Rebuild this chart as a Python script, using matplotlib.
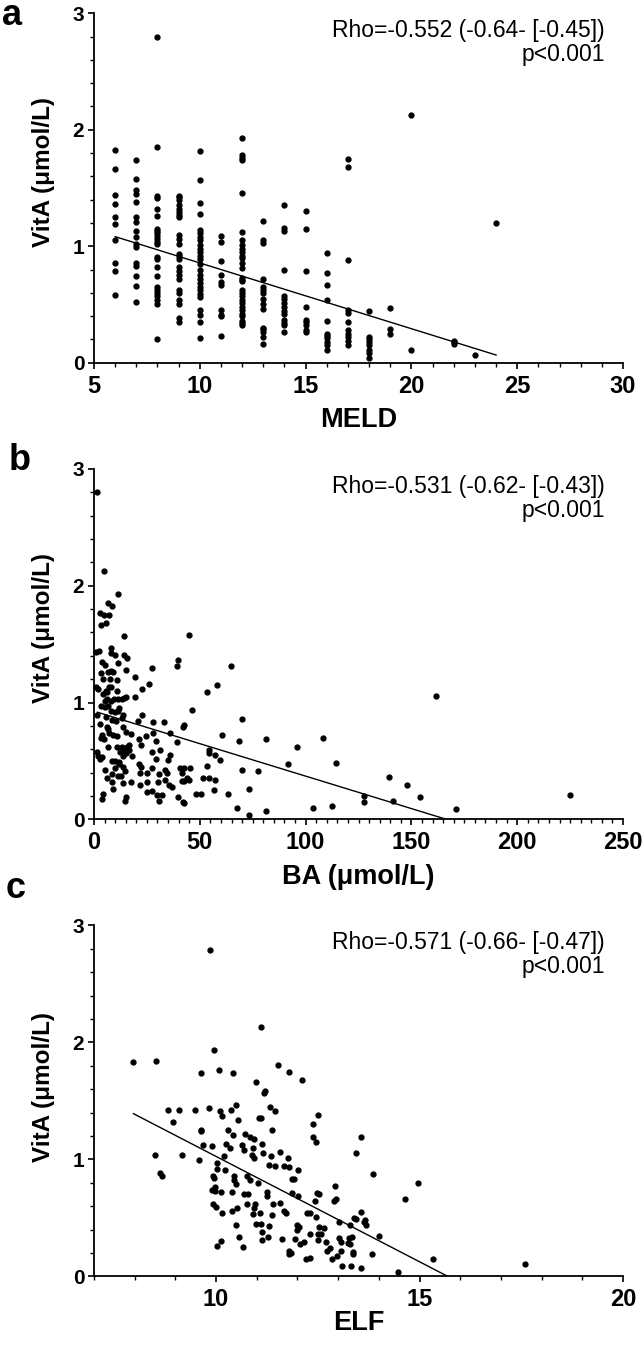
import matplotlib
matplotlib.use("Agg")
import matplotlib.pyplot as plt
from matplotlib.ticker import MultipleLocator
import numpy as np

plt.rcParams['font.family'] = ['Liberation Sans', 'DejaVu Sans']

# ---------------- Panel a: MELD vs VitA ----------------
meld_levels = [6, 7, 8, 9, 10, 11, 12, 13, 14, 15, 16, 17, 18, 19, 20, 22, 23, 24]
meld_vita = [
    [1.83, 1.66, 1.44, 1.36, 1.25, 1.19, 1.05, 0.86, 0.79, 0.58],
    [1.74, 1.58, 1.48, 1.45, 1.38, 1.25, 1.21, 1.13, 1.08, 1.02, 0.99, 0.86, 0.83, 0.74, 0.66, 0.52],
    [2.80, 1.85, 1.43, 1.41, 1.32, 1.26, 1.15, 1.13, 1.11, 1.09, 1.06, 1.04, 1.02, 0.91, 0.89, 0.82,
     0.74, 0.65, 0.62, 0.60, 0.57, 0.54, 0.50, 0.20],
    [1.43, 1.42, 1.40, 1.35, 1.32, 1.29, 1.27, 1.25, 1.10, 1.06, 1.02, 0.93, 0.92, 0.89, 0.82, 0.79,
     0.75, 0.72, 0.62, 0.60, 0.54, 0.50, 0.38, 0.35],
    [1.82, 1.57, 1.37, 1.28, 1.14, 1.11, 1.08, 1.05, 1.01, 0.98, 0.95, 0.92, 0.89, 0.85, 0.80, 0.75,
     0.72, 0.68, 0.65, 0.62, 0.59, 0.56, 0.45, 0.41, 0.35, 0.21],
    [1.09, 1.04, 0.87, 0.75, 0.69, 0.67, 0.45, 0.41, 0.40, 0.23],
    [1.93, 1.78, 1.76, 1.74, 1.46, 1.12, 1.05, 1.01, 0.98, 0.95, 0.92, 0.90, 0.86, 0.81, 0.73, 0.71,
     0.70, 0.62, 0.60, 0.57, 0.54, 0.51, 0.48, 0.45, 0.42, 0.40, 0.36, 0.34, 0.32],
    [1.22, 1.05, 1.03, 0.72, 0.65, 0.62, 0.60, 0.55, 0.50, 0.46, 0.30, 0.29, 0.26, 0.22, 0.16],
    [1.35, 1.16, 1.13, 0.80, 0.57, 0.55, 0.51, 0.48, 0.44, 0.42, 0.37, 0.34, 0.32, 0.26],
    [1.30, 1.15, 0.79, 0.48, 0.37, 0.35, 0.32, 0.28, 0.26],
    [0.94, 0.77, 0.67, 0.54, 0.36, 0.25, 0.23, 0.21, 0.18, 0.15, 0.11],
    [1.75, 1.68, 0.88, 0.45, 0.43, 0.35, 0.28, 0.25, 0.22, 0.19, 0.15],
    [0.44, 0.22, 0.20, 0.18, 0.15, 0.11, 0.08, 0.04],
    [0.47, 0.29, 0.25],
    [2.13, 0.11],
    [0.19, 0.18, 0.16],
    [0.07],
    [1.20],
]
meld_fit_x = [6, 24]
meld_fit_y = [1.082, 0.066]
meld_text = "Rho=-0.552 (-0.64- [-0.45])\np<0.001"

# ---------------- Panel b: BA vs VitA ----------------
ba_x = [1.6, 4.9, 11.3, 6.8, 8.7, 2.8, 4.9, 7.1, 5.8, 3.5, 45.1, 14.3, 7.9, 0.9, 2.5, 7.9, 10.1, 14.3,
        15.6, 3.6, 5.4, 11.3, 39.6, 39.1, 27.3, 64.6, 3.3, 6.5, 8.2, 9.1, 15.0, 19.5, 4.1, 7.6, 10.7,
        26.2, 0.9, 2.0, 7.2, 8.2, 22.5, 58.2, 53.6, 4.4, 5.7, 6.3, 10.7, 19.4, 9.5, 11.5, 13.2, 14.3,
        15.1, 5.2, 6.0, 8.0, 3.3, 5.2, 6.8, 12.0, 46.5, 7.9, 9.9, 11.2, 1.3, 5.7, 13.6, 13.2, 22.9,
        69.8, 8.4, 10.4, 20.6, 28.1, 33.1, 41.9, 42.7, 2.8, 6.3, 6.8, 7.1, 35.9, 13.6, 15.1, 17.5,
        28.1, 3.8, 4.7, 3.5, 8.8, 10.7, 60.7, 81.3, 108.0, 21.3, 24.6, 39.4, 68.7, 29.2, 6.8, 10.7,
        13.1, 16.5, 15.8, 22.2, 96.1, 54.2, 54.5, 27.4, 31.2, 12.3, 13.9, 15.1, 16.7, 1.3, 2.0, 3.6,
        2.8, 57.2, 59.6, 13.6, 17.8, 29.2, 36.1, 8.5, 9.9, 12.0, 34.8, 114.4, 91.9, 12.0, 13.9, 21.4,
        22.2, 53.6, 27.3, 40.7, 42.7, 45.4, 41.4, 5.0, 9.9, 14.7, 70.1, 77.4, 33.7, 34.7, 8.5, 11.5,
        12.9, 21.7, 25.2, 30.9, 33.7, 6.0, 8.4, 13.9, 17.3, 21.7, 25.2, 30.1, 35.3, 36.7, 41.4, 42.6,
        44.1, 44.9, 51.4, 54.4, 57.1, 56.6, 8.8, 27.6, 25.2, 29.9, 32.0, 48.2, 50.6, 63.2, 73.4, 4.1,
        3.6, 15.0, 14.7, 30.9, 39.9, 41.9, 42.7, 67.6, 73.4, 81.2, 103.7, 112.7, 127.4, 127.7, 139.2,
        141.1, 148.0, 154.0, 161.4, 171.0, 225.0]
ba_vita = [2.80, 2.13, 1.93, 1.85, 1.83, 1.77, 1.75, 1.75, 1.68, 1.66, 1.58, 1.57, 1.47, 1.43, 1.44,
           1.42, 1.41, 1.41, 1.38, 1.35, 1.32, 1.34, 1.36, 1.31, 1.30, 1.31, 1.25, 1.26, 1.27, 1.26,
           1.28, 1.22, 1.20, 1.20, 1.19, 1.16, 1.13, 1.12, 1.13, 1.13, 1.12, 1.15, 1.09, 1.07, 1.10,
           1.09, 1.10, 1.05, 1.03, 1.03, 1.03, 1.04, 1.05, 1.01, 1.03, 1.01, 0.97, 0.96, 0.97, 0.95,
           0.94, 0.93, 0.92, 0.93, 0.89, 0.88, 0.89, 0.87, 0.89, 0.86, 0.85, 0.84, 0.84, 0.83, 0.83,
           0.79, 0.81, 0.82, 0.79, 0.77, 0.74, 0.74, 0.79, 0.75, 0.73, 0.74, 0.72, 0.69, 0.70, 0.72,
           0.71, 0.72, 0.69, 0.70, 0.69, 0.71, 0.66, 0.67, 0.67, 0.62, 0.62, 0.62, 0.64, 0.62, 0.64,
           0.62, 0.59, 0.57, 0.58, 0.59, 0.58, 0.59, 0.57, 0.59, 0.58, 0.54, 0.53, 0.52, 0.55, 0.51,
           0.54, 0.54, 0.52, 0.55, 0.50, 0.50, 0.49, 0.51, 0.48, 0.47, 0.47, 0.45, 0.47, 0.45, 0.46,
           0.44, 0.44, 0.44, 0.44, 0.40, 0.42, 0.44, 0.41, 0.42, 0.41, 0.42, 0.40, 0.39, 0.37, 0.37,
           0.40, 0.40, 0.39, 0.34, 0.35, 0.32, 0.31, 0.32, 0.29, 0.32, 0.32, 0.29, 0.28, 0.33, 0.33,
           0.35, 0.34, 0.35, 0.35, 0.34, 0.25, 0.26, 0.24, 0.23, 0.21, 0.21, 0.22, 0.22, 0.22, 0.26,
           0.22, 0.17, 0.19, 0.16, 0.16, 0.19, 0.15, 0.14, 0.10, 0.04, 0.07, 0.10, 0.11, 0.20, 0.15,
           0.36, 0.16, 0.29, 0.19, 1.06, 0.09, 0.21]
ba_fit_x = [1.6, 166.5]
ba_fit_y = [0.917, 0.0]
ba_text = "Rho=-0.531 (-0.62- [-0.43])\np<0.001"

# ---------------- Panel c: ELF vs VitA ----------------
elf_x = [7.95, 8.53, 9.84, 11.11, 9.96, 10.06, 9.64, 10.41, 11.52, 11.80, 10.98, 11.17, 11.19, 12.11,
         8.83, 9.09, 9.47, 8.95, 9.83, 10.09, 10.14, 10.37, 10.48, 10.54, 11.33, 11.44, 11.05, 11.11,
         12.39, 12.50, 11.37, 9.62, 9.63, 10.30, 10.41, 10.72, 10.83, 10.92, 9.69, 9.90, 10.25, 10.33,
         10.64, 10.69, 10.91, 11.13, 11.15, 11.35, 11.29, 11.58, 11.76, 11.80, 11.68, 12.39, 12.46,
         8.49, 9.17, 9.58, 10.02, 10.03, 10.20, 10.88, 10.92, 8.63, 8.68, 9.92, 9.96, 10.23, 10.45,
         10.43, 10.48, 10.76, 10.83, 11.03, 11.45, 12.01, 11.86, 11.91, 12.02, 11.87, 9.91, 9.97,
         10.11, 9.98, 9.92, 10.00, 10.14, 10.39, 10.38, 10.52, 10.68, 10.79, 10.76, 10.92, 10.96,
         10.99, 11.11, 11.24, 11.24, 11.40, 11.56, 11.66, 11.72, 11.38, 11.29, 10.49, 10.57, 10.65,
         10.02, 10.11, 10.90, 11.07, 11.12, 11.13, 11.28, 11.62, 11.79, 11.80, 11.84, 11.99, 11.99,
         12.05, 11.93, 12.07, 12.17, 12.22, 12.32, 12.24, 12.30, 12.32, 12.42, 12.48, 12.52, 12.46,
         12.54, 12.65, 12.51, 12.57, 12.51, 12.70, 12.72, 12.79, 12.92, 12.94, 12.91, 13.02, 13.02,
         13.07, 13.26, 13.29, 12.86, 12.96, 13.32, 13.43, 13.56, 13.39, 13.45, 13.55, 13.65, 13.55,
         13.86, 14.95, 14.64, 13.63, 13.68, 13.30, 14.00, 13.84, 14.48, 15.33, 17.60, 13.33, 13.24,
         13.08, 13.36, 13.37, 13.10]
elf_vita = [1.83, 1.84, 2.79, 2.13, 1.93, 1.76, 1.74, 1.74, 1.81, 1.75, 1.66, 1.57, 1.58, 1.68,
            1.42, 1.42, 1.42, 1.32, 1.44, 1.41, 1.37, 1.42, 1.46, 1.34, 1.45, 1.41, 1.35, 1.35,
            1.30, 1.38, 1.25, 1.25, 1.24, 1.25, 1.21, 1.22, 1.19, 1.17, 1.12, 1.11, 1.13, 1.10,
            1.12, 1.08, 1.10, 1.13, 1.05, 1.03, 0.95, 1.06, 1.01, 0.93, 0.94, 1.19, 1.15,
            1.04, 1.04, 0.99, 0.97, 0.92, 1.03, 1.04, 1.01, 0.88, 0.86, 0.86, 0.84, 0.91, 0.86,
            0.82, 0.79, 0.86, 0.82, 0.80, 0.94, 0.91, 0.83, 0.83, 0.69, 0.71, 0.74, 0.73,
            0.72, 0.76, 0.62, 0.59, 0.54, 0.72, 0.56, 0.58, 0.70, 0.70, 0.62, 0.58, 0.62,
            0.45, 0.45, 0.72, 0.69, 0.62, 0.63, 0.56, 0.54, 0.52, 0.43, 0.44, 0.34, 0.25,
            0.26, 0.30, 0.53, 0.54, 0.31, 0.38, 0.34, 0.32, 0.22, 0.19, 0.20, 0.44, 0.40,
            0.42, 0.32, 0.28, 0.29, 0.15, 0.16, 0.54, 0.54, 0.36, 0.64, 0.71, 0.70, 0.51,
            0.42, 0.41, 0.36, 0.36, 0.31, 0.29, 0.22, 0.24, 0.77, 0.66, 0.64, 0.46, 0.33,
            0.29, 0.33, 0.28, 0.15, 0.17, 0.09, 1.05, 1.19, 0.50, 0.49, 0.55, 0.48, 0.07,
            0.875, 0.80, 0.66, 0.46, 0.44, 0.44, 0.345, 0.19, 0.04, 0.145, 0.105, 0.34, 0.285,
            0.22, 0.19, 0.21, 0.09]
elf_fit_x = [7.97, 15.69]
elf_fit_y = [1.39, 0.0]
elf_text = "Rho=-0.571 (-0.66- [-0.47])\np<0.001"

y_label = "VitA (μmol/L)"

# ---------------- Figure ----------------
W, H = 644, 1345
fig = plt.figure(figsize=(W / 100, H / 100), dpi=100)


def make_axes(top_px, bottom_px):
    left_px, right_px = 94, 623
    return fig.add_axes([left_px / W, (H - bottom_px) / H,
                         (right_px - left_px) / W, (bottom_px - top_px) / H])


ax_a = make_axes(13.2, 362.7)
ax_b = make_axes(469.0, 819.3)
ax_c = make_axes(925.3, 1276.3)


def style(ax, xlim, xmajor, xminor, xlabel, xlabelpad, text, letter, letter_x, letter_y, ylab_y):
    ax.set_xlim(*xlim)
    ax.set_ylim(0, 3)
    ax.xaxis.set_major_locator(MultipleLocator(xmajor))
    ax.xaxis.set_minor_locator(MultipleLocator(xminor))
    ax.yaxis.set_major_locator(MultipleLocator(1))
    ax.yaxis.set_minor_locator(MultipleLocator(0.2))
    for s in ['top', 'right']:
        ax.spines[s].set_visible(False)
    for s in ['left', 'bottom']:
        ax.spines[s].set_linewidth(1.3)
    ax.tick_params(which='major', direction='out', length=4.5, width=1.2)
    ax.tick_params(which='minor', direction='out', length=3, width=1.0)
    ax.tick_params(axis='x', which='major', labelsize=17, pad=4)
    ax.tick_params(axis='y', which='major', labelsize=15, pad=2.5)
    for lab in ax.get_xticklabels() + ax.get_yticklabels():
        lab.set_fontweight('bold')
    ax.set_xlabel(xlabel, fontsize=19.5, labelpad=xlabelpad, fontweight='bold')
    ax.set_ylabel(y_label, fontsize=17.5, fontweight='bold')
    ax.yaxis.set_label_coords(-0.074, ylab_y)
    ax.text(0.966, 0.984, text, transform=ax.transAxes, ha='right', va='top',
            fontsize=16.5, linespacing=1.08)
    fig.text(letter_x / W, 1 - letter_y / H, letter, fontsize=26, ha='left',
             va='baseline', fontweight='bold')


# Panel a
mx, my = [], []
for lvl, vals in zip(meld_levels, meld_vita):
    mx += [lvl] * len(vals)
    my += vals
ax_a.plot(mx, my, 'o', color='black', markersize=3.5, clip_on=False)
ax_a.plot(meld_fit_x, meld_fit_y, '-', color='black', linewidth=1.0)
style(ax_a, (5, 30), 5, 1, "MELD", 7, meld_text, "a", 2, 25, 0.547)

# Panel b
ax_b.plot(ba_x, ba_vita, 'o', color='black', markersize=3.5, clip_on=False)
ax_b.plot(ba_fit_x, ba_fit_y, '-', color='black', linewidth=1.0)
style(ax_b, (0, 250), 50, 5, "BA (μmol/L)", 7, ba_text, "b", 9, 470, 0.545)

# Panel c
ax_c.plot(elf_x, elf_vita, 'o', color='black', markersize=3.5, clip_on=False)
ax_c.plot(elf_fit_x, elf_fit_y, '-', color='black', linewidth=1.0)
style(ax_c, (7, 20), 5, 1, "ELF", -1, elf_text, "c", 6, 898, 0.538)

fig.savefig("out.png", dpi=100)
